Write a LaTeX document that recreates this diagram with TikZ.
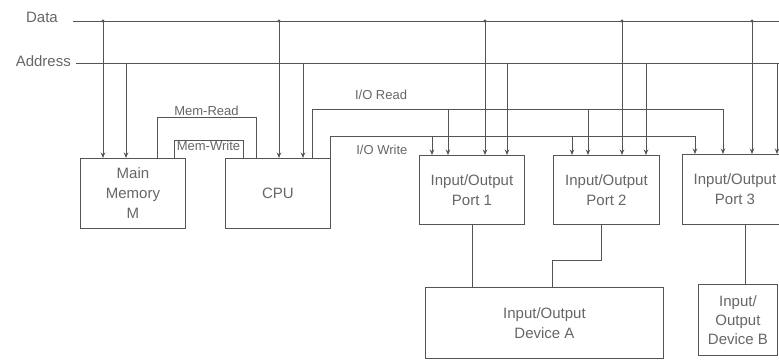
\documentclass[tikz,border=0pt]{standalone}
\usepackage{fontspec}
\setmainfont{Liberation Sans}
\usetikzlibrary{positioning,arrows.meta}
\definecolor{linegray}{gray}{0.33}
\definecolor{textgray}{gray}{0.4}

\begin{document}
\begin{tikzpicture}[x=1pt, y=-1pt,
                    block/.style={draw=linegray, line width=0.9pt, rectangle, align=center, text=textgray, font=\fontsize{15}{20}\selectfont, anchor=north west, inner sep=0pt},
                    lbl/.style={text=textgray, font=\fontsize{15}{18}\selectfont, inner sep=1pt},
                    sig/.style={text=textgray, font=\fontsize{13}{15}\selectfont, inner sep=1pt},
                    wire/.style={draw=linegray, line width=0.9pt},
                    arrow/.style={wire, -{Stealth[length=5.5pt, width=4.5pt]}},
                    junction/.style={fill=linegray}
                ]
                \useasboundingbox (0,0) rectangle (779,360);

                % Buses
                \coordinate (data w) at (73,21);
                \coordinate (data e) at (779,21);
                \coordinate (addr w) at (76,63);
                \coordinate (addr e) at (779,63);
                \node[lbl, left=14pt of data w, yshift=4pt] (data lbl) {Data};
                \node[lbl, left=4pt of addr w, yshift=2pt] (addr lbl) {Address};
                \draw[wire] (data w) -- (data e);
                \draw[wire] (addr w) -- (addr e);

                % Control line levels
                \coordinate (memread) at (0,117);
                \coordinate (memwrite) at (0,140);
                \coordinate (ioread) at (0,109);
                \coordinate (iowrite) at (0,136);

                % Memory, CPU and ports
                \node[block, minimum width=105pt, minimum height=70pt] (mem) at (80,158) {Main\\Memory\\M};
                \node[block, minimum width=105pt, minimum height=70pt] (cpu) at (225,158) {CPU};
                \node[block, minimum width=105pt, minimum height=69pt] (p1) at (419,155) {Input/Output\\Port 1};
                \node[block, minimum width=106pt, minimum height=69pt] (p2) at (553,155) {Input/Output\\Port 2};
                \node[block, minimum width=105pt, minimum height=70pt] (p3) at (682,154) {Input/Output\\Port 3};

                % Devices
                \node[block, minimum width=238pt, minimum height=71pt] (devA) at (425,287) {Input/Output\\Device A};
                \node[block, minimum width=79pt, minimum height=71pt, font=\fontsize{15}{19}\selectfont] (devB) at (698,284) {Input/\\Output\\Device B};

                % Taps on box tops
                \coordinate (mem-d) at ([xshift=23pt]mem.north west);
                \coordinate (mem-a) at ([xshift=46pt]mem.north west);
                \coordinate (mem-r) at ([xshift=77pt]mem.north west);
                \coordinate (mem-w) at ([xshift=94pt]mem.north west);
                \coordinate (cpu-w) at ([xshift=18pt]cpu.north west);
                \coordinate (cpu-r) at ([xshift=31pt]cpu.north west);
                \coordinate (cpu-d) at ([xshift=54pt]cpu.north west);
                \coordinate (cpu-a) at ([xshift=78pt]cpu.north west);
                \coordinate (cpu-ir) at ([xshift=87pt]cpu.north west);
                \coordinate (cpu-iw) at (cpu.north east);
                \foreach \b/\w/\r/\d/\a in {p1/13/29/66/88, p2/19/35/69/93, p3/13/41/70/95} {
                    \coordinate (\b-w) at ([xshift=\w pt]\b.north west);
                    \coordinate (\b-r) at ([xshift=\r pt]\b.north west);
                    \coordinate (\b-d) at ([xshift=\d pt]\b.north west);
                    \coordinate (\b-a) at ([xshift=\a pt]\b.north west);
                }

                % Data and address connections
                \foreach \b in {mem, cpu, p1, p2, p3} {
                    \draw[arrow] (data w -| \b-d) -- (\b-d);
                    \fill[junction] (data w -| \b-d) circle (1.6pt);
                    \draw[arrow] (addr w -| \b-a) -- (\b-a);
                }

                % Memory control
                \draw[wire] (mem-r) -- (mem-r |- memread) -| node[sig, pos=0.25, above] {Mem-Read} (cpu-r);
                \draw[wire] (mem-w) -- (mem-w |- memwrite) -| node[sig, pos=0.25, below] {Mem-Write} (cpu-w);

                % I/O control
                \draw[arrow] (cpu-ir) -- (cpu-ir |- ioread) -| node[sig, pos=0.084, above=8pt] {I/O Read} (p3-r);
                \draw[arrow] (cpu-iw) -- (cpu-iw |- iowrite) -| node[sig, pos=0.07, below=8pt] {I/O Write} (p3-w);
                \foreach \b in {p1, p2} {
                    \draw[arrow] (ioread -| \b-r) -- (\b-r);
                    \draw[arrow] (iowrite -| \b-w) -- (\b-w);
                }

                % Ports to devices
                \draw[wire] (p1.south) -- (p1.south |- devA.north);
                \coordinate (p2 out) at ([xshift=-5pt]p2.south);
                \coordinate (devA in) at ([xshift=127pt]devA.north west);
                \draw[wire] (p2 out) -- ++(0,36) -| (devA in);
                \coordinate (p3 out) at ([xshift=10pt]p3.south);
                \draw[wire] (p3 out) -- (p3 out |- devB.north);
            \end{tikzpicture}
\end{document}
